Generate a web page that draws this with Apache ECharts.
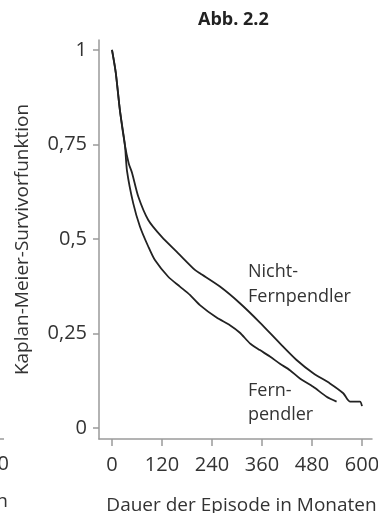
<!DOCTYPE html>
<html>
<head>
<meta charset="utf-8">
<script src="https://cdn.jsdelivr.net/npm/echarts@6/dist/echarts.min.js"></script>
<style>
  html, body { margin: 0; padding: 0; background: #fff; }
  #chart { width: 378px; height: 513px; }
</style>
</head>
<body>
<div id="chart"></div>
<script>
// Kaplan-Meier Survivorfunktion, Monate -> Anteil
const fernMonths = [0, 9, 19, 31, 36, 51, 67, 87, 103, 135, 163, 187, 211, 251, 283, 307, 331, 355, 379, 403, 427, 451, 483, 515, 539];
const fernSurv   = [1, 0.94, 0.84, 0.748, 0.68, 0.594, 0.533, 0.48, 0.444, 0.40, 0.374, 0.352, 0.325, 0.292, 0.272, 0.252, 0.224, 0.206, 0.189, 0.17, 0.153, 0.131, 0.109, 0.083, 0.07];

const nichtMonths = [0, 9, 19, 31, 40, 48, 63, 87, 119, 159, 199, 211, 259, 307, 355, 403, 443, 483, 523, 555, 571, 595, 600];
const nichtSurv   = [1, 0.94, 0.84, 0.748, 0.70, 0.675, 0.612, 0.55, 0.506, 0.462, 0.418, 0.409, 0.374, 0.33, 0.279, 0.224, 0.18, 0.145, 0.118, 0.092, 0.07, 0.07, 0.058];

const xTicks = [0, 120, 240, 360, 480, 600];
const yTicks = [0, 0.25, 0.5, 0.75, 1];

const FONT = 'Open Sans';
const TXT = '#333';
const AXIS = '#9a9a9a';

const chart = echarts.init(document.getElementById('chart'));

const zip = (xs, ys) => xs.map((x, i) => [x, ys[i]]);

chart.setOption({
    animation: false,
    grid: { left: 99, right: 6, top: 40, bottom: 74, containLabel: false, outerBoundsMode: 'none' },
    xAxis: {
        type: 'value',
        min: -31.2,
        max: 624,
        axisLine: { show: true, onZero: false, lineStyle: { color: AXIS, width: 1.5 } },
        axisTick: { show: true, length: 7, customValues: xTicks, lineStyle: { color: AXIS, width: 1.5 } },
        axisLabel: { customValues: xTicks, fontSize: 20, fontFamily: FONT, color: TXT, margin: 16 },
        splitLine: { show: false },
        name: 'Dauer der Episode in Monaten',
        nameLocation: 'middle',
        nameGap: 57,
        nameTextStyle: { fontSize: 19, fontFamily: FONT, color: TXT, padding: [0, 0, 0, 12] }
    },
    yAxis: {
        type: 'value',
        min: -0.029,
        max: 1.026,
        axisLine: { show: true, onZero: false, lineStyle: { color: AXIS, width: 1.5 } },
        axisTick: { show: true, length: 6, customValues: yTicks, lineStyle: { color: AXIS, width: 1.5 } },
        axisLabel: {
            customValues: yTicks, fontSize: 20, fontFamily: FONT, color: TXT, margin: 12,
            formatter: v => String(v).replace('.', ',')
        },
        splitLine: { show: false },
        name: 'Kaplan-Meier-Survivorfunktion',
        nameLocation: 'middle',
        nameGap: 67,
        nameTextStyle: { fontSize: 19, fontFamily: FONT, color: TXT }
    },
    series: [
        {
            name: 'Fernpendler',
            type: 'line',
            data: zip(fernMonths, fernSurv),
            showSymbol: false,
            smooth: 0.25,
            lineStyle: { color: '#222', width: 1.8 }
        },
        {
            name: 'Nicht-Fernpendler',
            type: 'line',
            data: zip(nichtMonths, nichtSurv),
            showSymbol: false,
            smooth: 0.25,
            lineStyle: { color: '#222', width: 1.8 }
        }
    ],
    graphic: [
        { type: 'text', left: 198, top: 11, style: { text: 'Abb. 2.2', font: 'bold 18px "Open Sans"', fill: '#222' } },
        { type: 'text', left: 248, top: 259, style: { text: 'Nicht-\nFernpendler', font: '18px "Open Sans"', lineHeight: 25, fill: TXT } },
        { type: 'text', left: 248, top: 379, style: { text: 'Fern-\npendler', font: '18px "Open Sans"', lineHeight: 24, fill: TXT } },
        // Reste des Nachbarbildes am linken Rand
        { type: 'text', x: 9, y: 464, style: { text: '0', font: '20px "Open Sans"', fill: TXT, align: 'right', verticalAlign: 'middle' } },
        { type: 'text', x: 8, y: 502, style: { text: 'n', font: '19px "Open Sans"', fill: TXT, align: 'right', verticalAlign: 'middle' } },
        { type: 'line', shape: { x1: 0, y1: 439, x2: 4, y2: 439 }, style: { stroke: AXIS, lineWidth: 1.5 } }
    ]
});
</script>
</body>
</html>
